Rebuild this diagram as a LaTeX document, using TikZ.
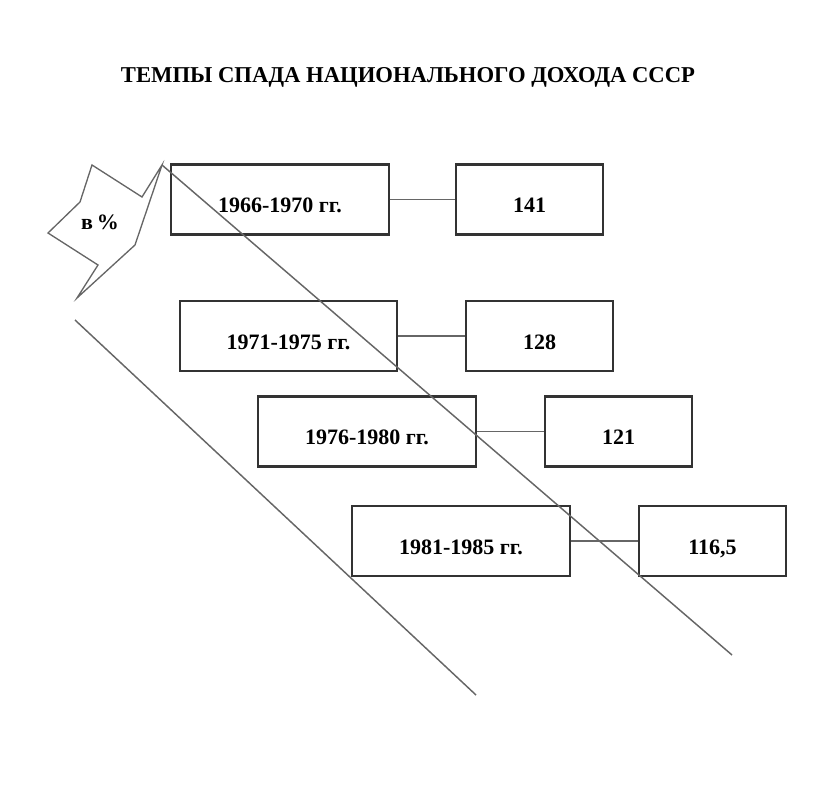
\documentclass[tikz,border=0pt]{standalone}
\usepackage{fontspec}
\setmainfont{Liberation Serif}
\begin{document}
\begin{tikzpicture}[x=0.75pt,y=-0.75pt,
  every node/.style={font=\fontsize{16.5}{19}\selectfont\bfseries},
  period/.style={draw=black!80,line width=1.6pt,minimum width=163pt,minimum height=52.5pt,inner sep=0pt,text height=20pt,text depth=0pt},
  value/.style={period,minimum width=110.5pt},
  link/.style={draw=black!60,line width=1.1pt}]
\useasboundingbox (0,0) rectangle (816,805);
\node[font=\fontsize{17}{20}\selectfont\bfseries] (title) at (408,77) {ТЕМПЫ СПАДА НАЦИОНАЛЬНОГО ДОХОДА СССР};
% arrow with the unit
\draw[black!60,line width=1pt] (92,165)--(142,197)--(162,165)--(135,245)--(77,298)--(98,265)--(48,233)--(80,202)--cycle;
\node (unit) at (100,222) {в\,\%};
% periods and values
\node[period] (p1) at (280,199.5) {1966-1970 гг.};
\node[value] (v1) at (529.5,199.5) {141};
\node[period] (p2) at (288.5,336) {1971-1975 гг.};
\node[value] (v2) at (539.5,336) {128};
\node[period] (p3) at (367,431.5) {1976-1980 гг.};
\node[value] (v3) at (618.5,431.5) {121};
\node[period] (p4) at (461,541) {1981-1985 гг.};
\node[value] (v4) at (712.5,541) {116,5};
\foreach \i in {1,...,4}
  \draw[link] (p\i)--(v\i);
% falling lines
\coordinate (a1) at (162,165);
\coordinate (a2) at (732,655);
\coordinate (b1) at (75,320);
\coordinate (b2) at (476,695);
\draw[link] (a1)--(a2);
\draw[link] (b1)--(b2);
\end{tikzpicture}
\end{document}
